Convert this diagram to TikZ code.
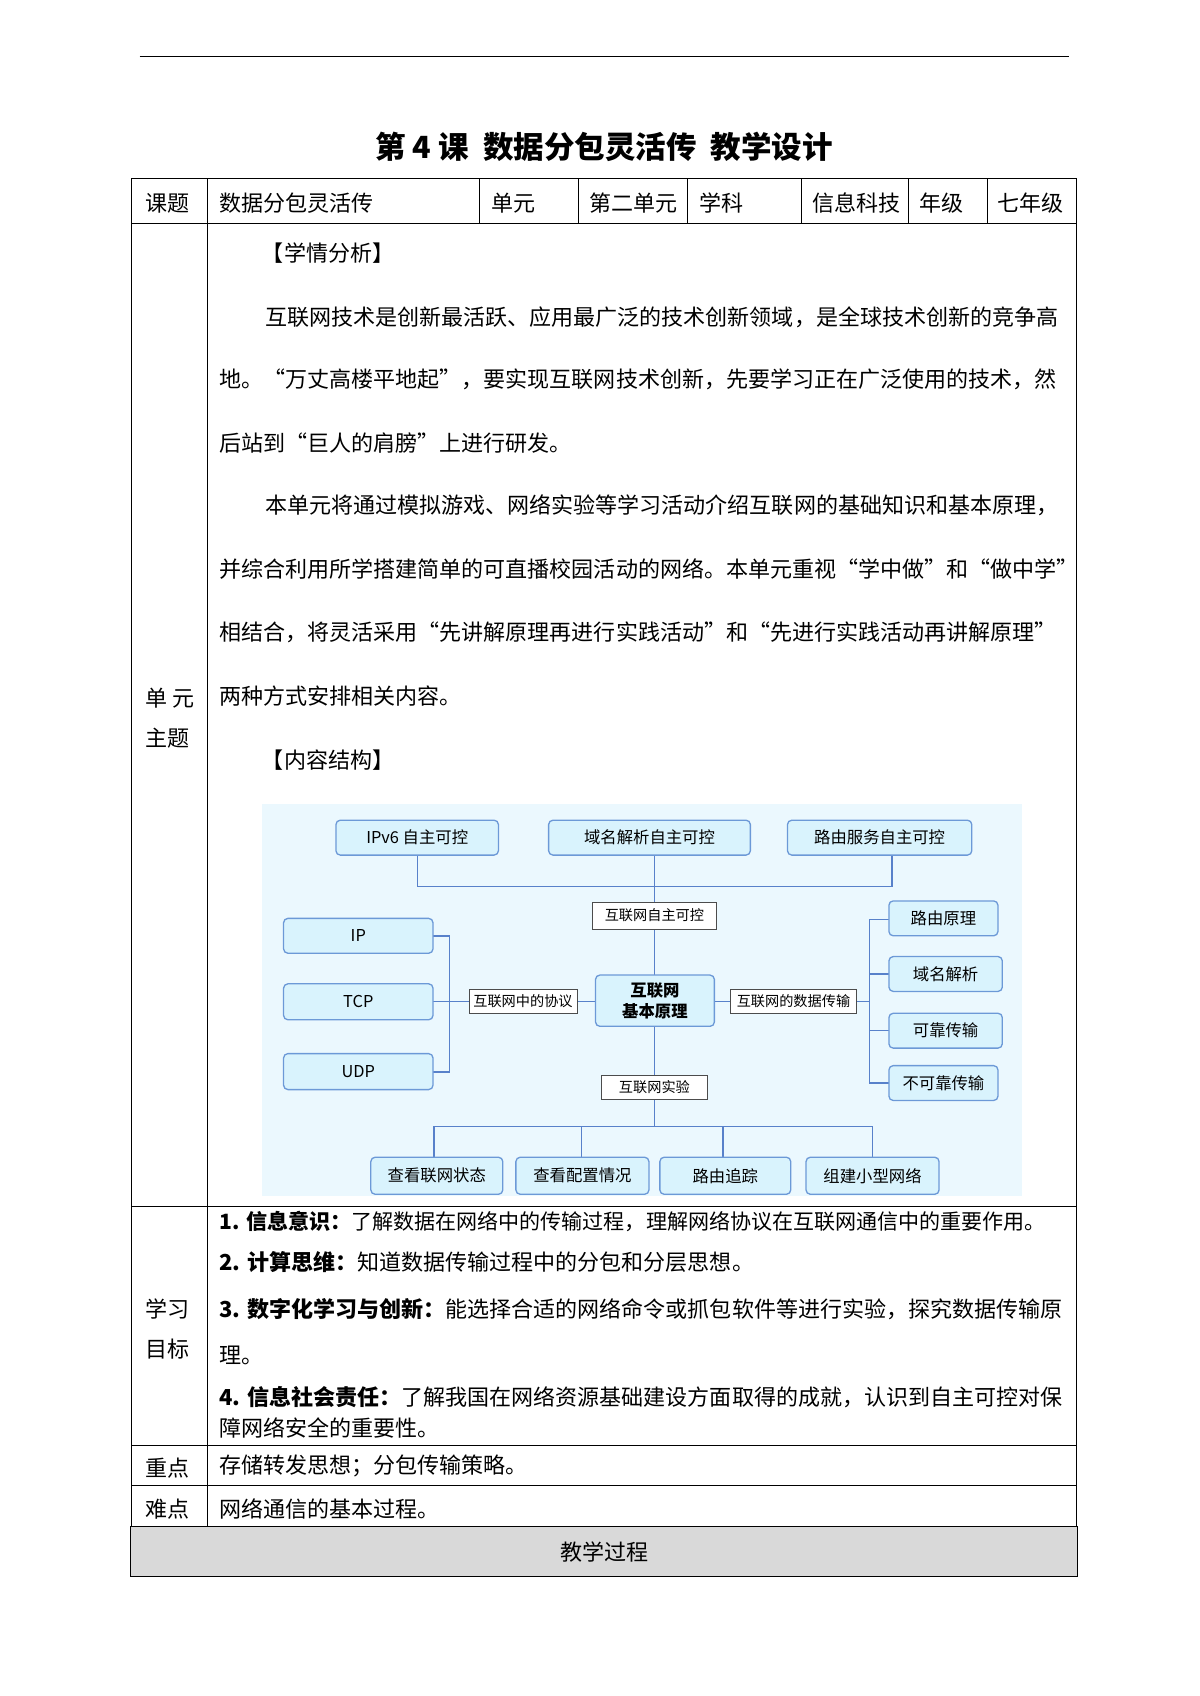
\documentclass[tikz,border=0pt]{standalone}
\usepackage{fontspec}
\setmainfont{Noto Sans CJK SC}
\begin{document}
\begin{tikzpicture}[x=1pt,y=-1pt,
  txt/.style={anchor=west,inner sep=0,font=\fontsize{20.2}{22}\selectfont},
  dnode/.style={draw=cyan!50!blue!60,fill=cyan!15,rounded corners=4pt,line width=1.2pt,font=\fontsize{15}{16}\selectfont,inner sep=0},
  lbox/.style={draw=black!70,fill=white,line width=0.8pt,font=\fontsize{13}{14}\selectfont,inner sep=0},
  ln/.style={draw=cyan!40!blue!70,line width=1.3pt},
  tl/.style={line width=0.9pt}]
\useasboundingbox (0,0) rectangle (1100,1555);
\fill[white] (0,0) rectangle (1100,1555);
\draw[line width=1pt] (128,52) -- (980,52);
\node[font=\fontsize{28}{32}\selectfont\bfseries] (title) at (554,135) {第 4 课\ \ 数据分包灵活传\ \ 教学设计};
% table
\fill[black!15] (120,1400) rectangle (988,1445);
\draw[tl] (121,164) rectangle (987,1400);
\draw[tl] (120,1400) rectangle (988,1445);
\foreach \y in {205,1106,1325,1362} \draw[tl] (121,\y) -- (987,\y);
\draw[tl] (190,164) -- (190,1400);
\foreach \x in {440,530,630,735,833,905} \draw[tl] (\x,164) -- (\x,205);
\foreach \x/\t in {133/课题,201/数据分包灵活传,450/单元,540/第二单元,641/学科,745/信息科技,843/年级,914/七年级}
  \node[txt] at (\x,186) {\t};
\node[txt] (a1) at (133,640) {单\ 元};
\node[txt] (a2) at (133,677) {主题};
\node[txt] (b1) at (133,1200) {学习};
\node[txt] (b2) at (133,1237) {目标};
\node[txt] (c1) at (133,1346) {重点};
\node[txt] (d1) at (133,1384) {难点};
\node[txt] (jx) at (554,1423) [anchor=center] {教学过程};
% texts
\node[txt] (p0) at (240,232) {【学情分析】};
\node[txt] (p1) at (243,291) {互联网技术是创新最活跃、应用最广泛的技术创新领域，是全球技术创新的竞争高};
\node[txt] (p2) at (201,348) {地。“万丈高楼平地起”，要实现互联网技术创新，先要学习正在广泛使用的技术，然};
\node[txt] (p3) at (201,406) {后站到“巨人的肩膀”上进行研发。};
\node[txt] (p4) at (243,463) {本单元将通过模拟游戏、网络实验等学习活动介绍互联网的基础知识和基本原理，};
\node[txt] (p5) at (201,522) {并综合利用所学搭建简单的可直播校园活动的网络。本单元重视“学中做”和“做中学”};
\node[txt] (p6) at (201,580) {相结合，将灵活采用“先讲解原理再进行实践活动”和“先进行实践活动再讲解原理”};
\node[txt] (p7) at (201,638) {两种方式安排相关内容。};
\node[txt] (p8) at (240,697) {【内容结构】};
\node[txt,font=\fontsize{19.3}{22}\selectfont] (g1) at (201,1120) {\textbf{1. 信息意识：}了解数据在网络中的传输过程，理解网络协议在互联网通信中的重要作用。};
\node[txt] (g2) at (201,1157) {\textbf{2. 计算思维：}知道数据传输过程中的分包和分层思想。};
\node[txt] (g3) at (201,1200) {\textbf{3. 数字化学习与创新：}能选择合适的网络命令或抓包软件等进行实验，探究数据传输原};
\node[txt] (g4) at (201,1243) {理。};
\node[txt] (g5) at (201,1281) {\textbf{4. 信息社会责任：}了解我国在网络资源基础建设方面取得的成就，认识到自主可控对保};
\node[txt] (g6) at (201,1309) {障网络安全的重要性。};
\node[txt] (k1) at (201,1344) {存储转发思想；分包传输策略。};
\node[txt] (k2) at (201,1384) {网络通信的基本过程。};
% diagram
\fill[cyan!8] (240,737) rectangle (937,1097);
\draw[ln] (383,784) -- (383,813) -- (818,813) -- (818,784);
\draw[ln] (600,784) -- (600,894);
\draw[ln] (600,941) -- (600,1033);
\draw[ln] (398,1061) -- (398,1033) -- (800,1033) -- (800,1061);
\draw[ln] (533,1033) -- (533,1061);
\draw[ln] (663,1033) -- (663,1061);
\draw[ln] (397,858) -- (412,858) -- (412,983) -- (397,983);
\draw[ln] (397,918) -- (546,918);
\draw[ln] (655,918) -- (797,918);
\draw[ln] (815,843) -- (797,843) -- (797,993) -- (815,993);
\draw[ln] (797,893) -- (815,893);
\draw[ln] (797,945) -- (815,945);
\newcommand\dn[6]{\node[dnode,minimum width=#3-#2,minimum height=#5-#4] (#1) at ({(#2+#3)/2},{(#4+#5)/2}) {#6};}
\dn{t1}{308}{457}{752}{784}{IPv6 自主可控}
\dn{t2}{503}{688}{752}{784}{域名解析自主可控}
\dn{t3}{722}{891}{752}{784}{路由服务自主可控}
\dn{l1}{260}{397}{842}{874}{IP}
\dn{l2}{260}{397}{902}{935}{TCP}
\dn{l3}{260}{397}{966}{999}{UDP}
\dn{r1}{815}{915}{826}{858}{路由原理}
\dn{r2}{815}{919}{877}{909}{域名解析}
\dn{r3}{815}{919}{929}{961}{可靠传输}
\dn{r4}{815}{915}{977}{1009}{不可靠传输}
\dn{b1x}{340}{461}{1061}{1095}{查看联网状态}
\dn{b2x}{473}{595}{1061}{1095}{查看配置情况}
\dn{b3x}{605}{725}{1061}{1095}{路由追踪}
\dn{b4x}{739}{861}{1061}{1095}{组建小型网络}
\node[dnode,minimum width=109,minimum height=47,align=center,font=\fontsize{15}{19}\selectfont\bfseries] (ctr) at (600.5,917.5) {互联网\\基本原理};
\node[lbox,minimum width=114,minimum height=25] (m1) at (600,839.5) {互联网自主可控};
\node[lbox,minimum width=99,minimum height=22] (m2) at (479.5,918) {互联网中的协议};
\node[lbox,minimum width=115,minimum height=22] (m3) at (727.5,918) {互联网的数据传输};
\node[lbox,minimum width=98,minimum height=22] (m4) at (600,997) {互联网实验};
\end{tikzpicture}
\end{document}
